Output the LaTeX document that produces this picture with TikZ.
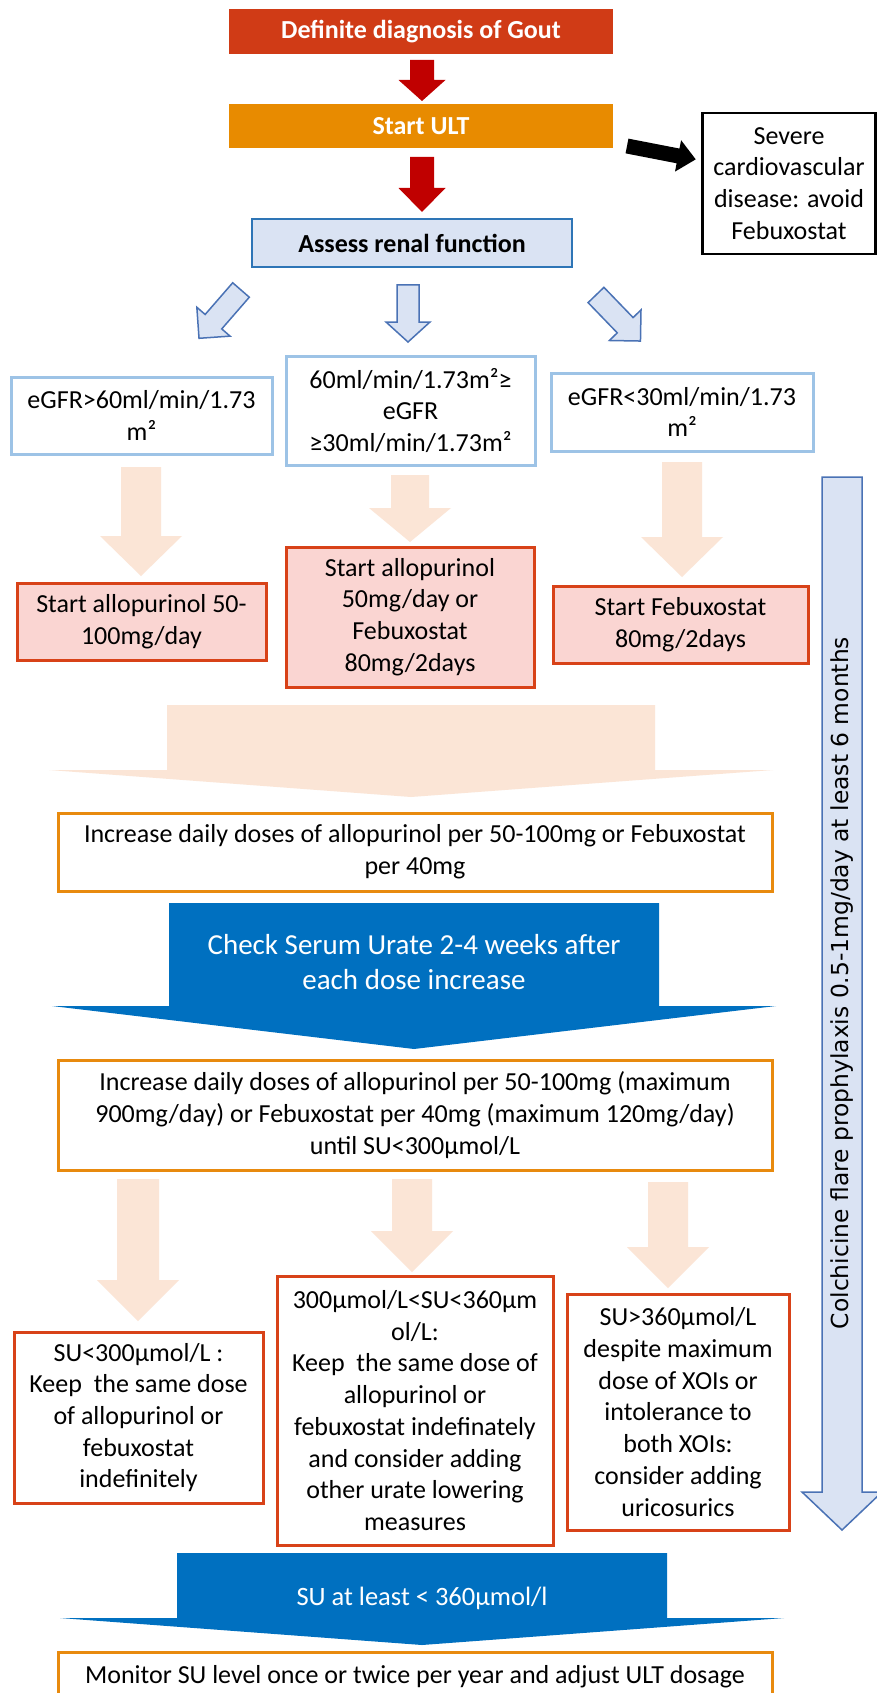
\documentclass[tikz,border=0pt]{standalone}
\usepackage{fontspec}
\setmainfont{Carlito}
\newfontfamily\sidefont{DejaVu Sans}

\definecolor{gtred}{HTML}{D03B16}
\definecolor{gtorange}{HTML}{E88B00}
\definecolor{darkred}{HTML}{C00000}
\definecolor{lightblue}{HTML}{DAE3F3}
\definecolor{assessblue}{HTML}{2E75B6}
\definecolor{arrowblue}{HTML}{4A72B5}
\definecolor{boxblue}{HTML}{9DC3E6}
\definecolor{boxred}{HTML}{D84218}
\definecolor{boxpink}{HTML}{FAD5D2}
\definecolor{boxorange}{HTML}{E88A0E}
\definecolor{peach}{HTML}{FBE5D6}
\definecolor{bigblue}{HTML}{0070C0}

\newcommand\bodyfont{\fontsize{26}{31.7}\selectfont}

% vertical block arrow: options, centre x, top y, head y, tip y, shaft half width, head half width
\newcommand\blockdown[7][]{%
  \path[#1] ({#2-#6},#3) -- ({#2+#6},#3) -- ({#2+#6},#4) -- ({#2+#7},#4)
    -- (#2,#5) -- ({#2-#7},#4) -- ({#2-#6},#4) -- cycle;}

% small slanted block arrow: tail centre x, y, rotation
\newcommand\slantarrow[3]{%
  \begin{scope}[shift={(#1,#2)}, rotate=#3]
    \path[smallarr] (-11,0) -- (11,0) -- (11,42) -- (22,42) -- (0,64)
      -- (-22,42) -- (-11,42) -- cycle;
  \end{scope}}

\begin{document}
\begin{tikzpicture}[x=1pt, y=-1pt,
  box/.style={rectangle, inner sep=0pt, align=center, font=\bodyfont},
  headbox/.style={box, text=white, font=\bodyfont\bfseries},
  egfr/.style={box, draw=boxblue, line width=3pt, fill=white},
  startbox/.style={box, draw=boxred, fill=boxpink, line width=3pt},
  plan/.style={box, draw=boxorange, line width=3pt, fill=white},
  result/.style={box, draw=boxred, line width=3pt, fill=white},
  smallarr/.style={fill=lightblue, draw=arrowblue, line width=1.5pt, line join=miter},
  peacharr/.style={fill=peach},
  bluearr/.style={fill=bigblue},
  redarr/.style={fill=darkred},
  colarr/.style={fill=lightblue, draw=arrowblue, line width=1.5pt, line join=miter},
]
\useasboundingbox (0,0) rectangle (877,1693);
\clip (0,0) rectangle (877,1693);
\fill[white] (0,0) rectangle (877,1693);

% ---- arrows ----
\blockdown[redarr]{422}{60}{80}{101}{12}{23.5}
\blockdown[redarr]{422}{157}{188}{212}{12}{23.5}

\begin{scope}[shift={(627,146)}, rotate=-11]
  \fill[black] (0,-7.5) -- (52,-7.5) -- (52,-16) -- (70,0) -- (52,16) -- (52,7.5) -- (0,7.5) -- cycle;
\end{scope}

\slantarrow{241}{290}{-41}
\blockdown[smallarr]{408}{285}{322}{342}{11}{22}
\slantarrow{596}{295}{44}

\blockdown[peacharr]{141}{467}{536}{576}{20}{41}
\blockdown[peacharr]{410}{475}{508}{542}{19}{41}
\blockdown[peacharr]{682}{462}{537}{577}{20}{41}

\blockdown[peacharr]{411}{705}{770}{797}{244}{362}
\blockdown[bluearr]{414}{903}{1006}{1049}{245}{362}

\blockdown[peacharr]{138}{1179}{1280}{1321}{21}{41}
\blockdown[peacharr]{412}{1179}{1231}{1272}{20}{41}
\blockdown[peacharr]{668}{1182}{1247}{1288}{20}{41}

\blockdown[bluearr]{422}{1553}{1618}{1645}{245}{362}

\blockdown[colarr]{842}{477}{1492}{1530}{20}{40}

% ---- boxes ----
\node[headbox, fill=gtred, minimum width=384pt, minimum height=45pt] (diag) at (421,31.5) {Definite diagnosis of Gout};
\node[headbox, fill=gtorange, minimum width=384pt, minimum height=44pt] (ult) at (421,126) {Start ULT};
\node[box, font=\bodyfont\bfseries, fill=lightblue, draw=assessblue, line width=2.5pt,
      minimum width=320pt, minimum height=48pt] (assess) at (412,243) {Assess renal function};
\node[box, draw=black, line width=2.5pt, fill=white, minimum width=173pt, minimum height=141pt]
      (severe) at (789,183.5) {Severe\\cardiovascular\\disease: avoid\\Febuxostat};

\node[egfr, minimum width=261pt, minimum height=77pt] (egfrA) at (141.5,415.5) {eGFR>60ml/min/1.73\\m²};
\node[egfr, minimum width=249pt, minimum height=109pt] (egfrB) at (410.5,410.5) {60ml/min/1.73m²≥\\eGFR\\≥30ml/min/1.73m²};
\node[egfr, minimum width=262pt, minimum height=78pt] (egfrC) at (682,412) {eGFR<30ml/min/1.73\\m²};

\node[startbox, minimum width=249pt, minimum height=77pt] (startA) at (141.5,621.5) {Start allopurinol 50-\\100mg/day};
\node[startbox, minimum width=248pt, minimum height=140pt] (startB) at (410,617) {Start allopurinol\\50mg/day or\\Febuxostat\\80mg/2days};
\node[startbox, minimum width=255pt, minimum height=77pt] (startC) at (680.5,624.5) {Start Febuxostat\\80mg/2days};

\node[plan, minimum width=714pt, minimum height=78pt] (incr1) at (415,852) {Increase daily doses of allopurinol per 50-100mg or Febuxostat\\per 40mg};
\node[box, text=white, font=\fontsize{29}{35}\selectfont] (check) at (414,962) {Check Serum Urate 2-4 weeks after\\each dose increase};
\node[plan, minimum width=714pt, minimum height=110pt] (incr2) at (415,1115) {Increase daily doses of allopurinol per 50-100mg (maximum\\900mg/day) or Febuxostat per 40mg (maximum 120mg/day)\\until SU<300µmol/L};

\node[result, minimum width=249pt, minimum height=171pt] (suA) at (138.5,1417.5) {SU<300µmol/L :\\Keep~ the same dose\\of allopurinol or\\febuxostat\\indefinitely};
\node[result, minimum width=276pt, minimum height=269pt] (suB) at (415,1410.5) {300µmol/L<SU<360µm\\ol/L:\\Keep~ the same dose of\\allopurinol or\\febuxostat indefinately\\and consider adding\\other urate lowering\\measures};
\node[result, minimum width=222pt, minimum height=236pt] (suC) at (678,1412) {SU>360µmol/L\\despite maximum\\dose of XOIs or\\intolerance to\\both XOIs:\\consider adding\\uricosurics};

\node[box, text=white, font=\fontsize{26.5}{32}\selectfont] (sulevel) at (422,1598) {SU at least < 360µmol/l};
\node[plan, minimum width=714pt, minimum height=50pt] (monitor) at (415,1677) {Monitor SU level once or twice per year and adjust ULT dosage};

\node[rotate=90, inner sep=0pt, font=\sidefont\fontsize{23.4}{28}\selectfont] (colch) at (842,983)
      {Colchicine flare prophylaxis 0.5-1mg/day at least 6 months};
\end{tikzpicture}
\end{document}
